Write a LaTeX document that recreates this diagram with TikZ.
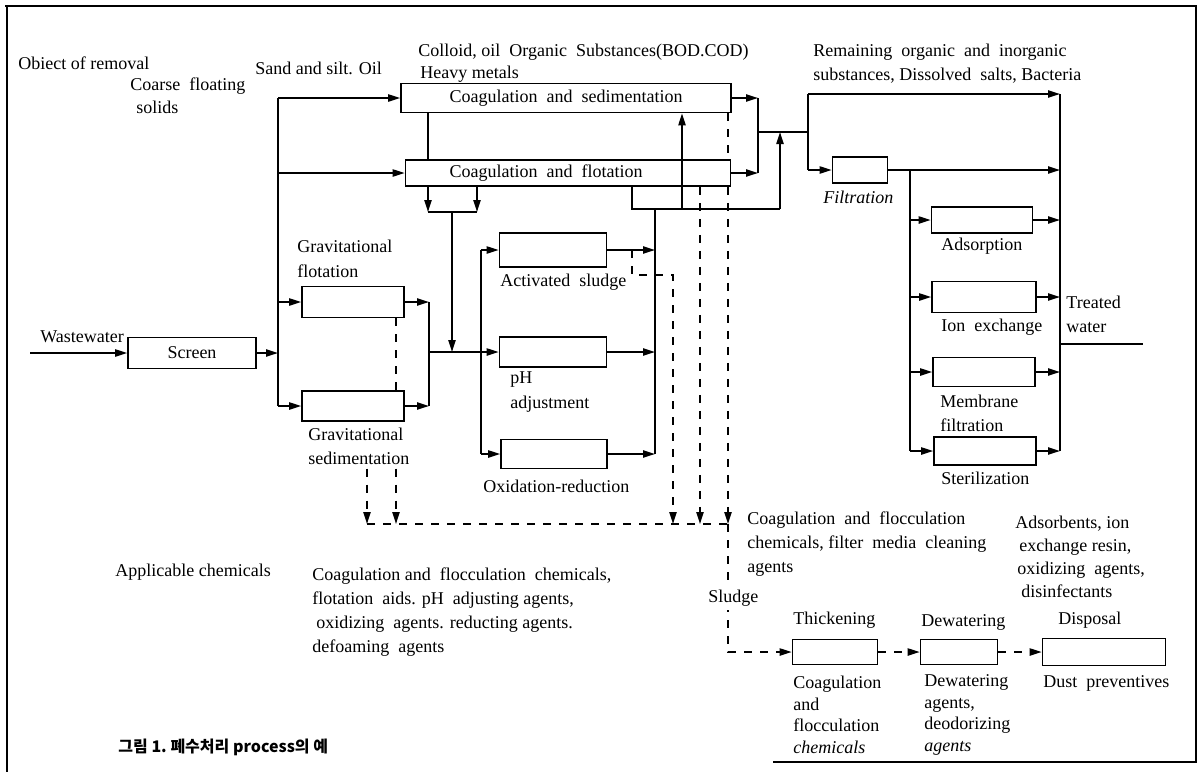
\documentclass[tikz,border=0pt]{standalone}
\usepackage{fontspec}
\setmainfont{Liberation Serif}
\newfontfamily\krfont{Noto Sans CJK KR}
\usetikzlibrary{arrows.meta, positioning, calc}

\tikzset{
  unit/.style={draw, line width=0.8pt, minimum height=15pt, inner sep=0pt},
  pipe/.style={line width=0.8pt},
  flow/.style={line width=0.8pt, -{Triangle[length=6pt,width=3.6pt]}},
  sludge/.style={line width=0.8pt, dash pattern=on 4pt off 4pt},
  txt/.style={anchor=west, inner sep=0pt, align=left},
}

\begin{document}
\begin{tikzpicture}[x=0.5pt, y=-0.5pt, font=\fontsize{9}{12}\selectfont]
  \useasboundingbox (0,0) rectangle (1200,772);
  \draw[line width=0.6pt] (5,6) -- (1196,6) -- (1196,762) -- (773,762);
  \draw[line width=0.6pt] (7,6) -- (7,772);

  % units
  \node[unit, minimum width=64pt, minimum height=15.5pt] (screen) at (192,353) {Screen};
  \node[unit, minimum width=51pt, minimum height=15.5pt] (gflot) at (353,302) {};
  \node[unit, minimum width=51pt] (gsed) at (353,406) {};
  \node[unit, minimum width=165pt, minimum height=14.5pt] (csed) at (566,98) {Coagulation\ \ and\ \ sedimentation};
  \node[unit, minimum width=162.5pt, minimum height=13pt] (cflot) at (568,173) {\hspace{-22pt}Coagulation\ \ and\ \ flotation};
  \node[unit, minimum width=53.5pt, minimum height=17pt] (actsl) at (553,250) {};
  \node[unit, minimum width=53.5pt] (ph) at (553,352) {};
  \node[unit, minimum width=53pt, minimum height=14.5pt] (oxred) at (554,454) {};
  \node[unit, minimum width=27.5pt, minimum height=13pt] (filt) at (860,170) {};
  \node[unit, minimum width=50.5pt, minimum height=13pt] (adsorp) at (982,220) {};
  \node[unit, minimum width=52pt, minimum height=15.5pt] (ionex) at (984,297) {};
  \node[unit, minimum width=51pt, minimum height=14.5pt] (membr) at (984,372) {};
  \node[unit, minimum width=51pt, minimum height=14pt] (steril) at (985,451) {};
  \node[unit, minimum width=42.5pt, minimum height=12.5pt] (thick) at (835,652) {};
  \node[unit, minimum width=38.5pt, minimum height=12.5pt] (dewat) at (959,652) {};
  \node[unit, minimum width=61.5pt, minimum height=13.5pt] (dispo) at (1104,652) {};

  % labels
  \node[txt] (lobj) at (18,63) {Obiect of removal};
  \node[txt] (lcoarse) at (130,96) {Coarse\ \ floating\\[-0.5pt]\hspace{3pt}solids};
  \node[txt] (lsand) at (255,68) {Sand and silt. Oil};
  \node[txt] (lcoll) at (418,52) {Colloid, oil\ \ Organic\ \ Substances(BOD.COD)};
  \node[txt] (lheavy) at (420,74) {Heavy metals};
  \node[txt] (lrem) at (813,64) {Remaining\ \ organic\ \ and\ \ inorganic\\substances, Dissolved\ \ salts, Bacteria};
  \node[txt] (lww) at (40,337) {Wastewater};
  \node[txt] (lgflot) at (297,259) {Gravitational\\[0.5pt]flotation};
  \node[txt] (lgsed) at (308,446) {Gravitational\\sedimentation};
  \node[txt] (lactsl) at (500,282) {Activated\ \ sludge};
  \node[txt] (lph) at (510,392) {pH\\[0.5pt]adjustment};
  \node[txt] (loxred) at (483,486) {Oxidation-reduction};
  \node[txt, font=\fontsize{9}{12}\selectfont\itshape] (lfilt) at (823,197) {Filtration};
  \node[txt] (ladsorp) at (941,246) {Adsorption};
  \node[txt] (lionex) at (941,327) {Ion\ \ exchange};
  \node[txt] (lmembr) at (940,413) {Membrane\\filtration};
  \node[txt] (lsteril) at (941,478) {Sterilization};
  \node[txt] (ltw) at (1066,314) {Treated\\water};
  \node[txt] (lapp) at (115,572) {Applicable chemicals};
  \node[txt] (lchem1) at (312,612) {Coagulation and\ \ flocculation\ \ chemicals,\\flotation\ \ aids. pH\ \ adjusting agents,\\\hspace{2pt}oxidizing\ \ agents. reducting agents.\\defoaming\ \ agents};
  \node[txt] (lchem2) at (747,544) {Coagulation\ \ and\ \ flocculation\\chemicals, filter\ \ media\ \ cleaning\\agents};
  \node[txt, font=\fontsize{9}{11.5}\selectfont] (lchem3) at (1015,557) {Adsorbents, ion\\\hspace{2pt}exchange resin,\\\hspace{1pt}oxidizing\ \ agents,\\\hspace{3pt}disinfectants};
  \node[txt] (lthick) at (793,620) {Thickening};
  \node[txt] (ldewat) at (921,622) {Dewatering};
  \node[txt] (ldispo) at (1058,620) {Disposal};
  \node[txt, font=\fontsize{9}{10.8}\selectfont] (lthickc) at (793,715) {Coagulation\\and\\flocculation\\\textit{chemicals}};
  \node[txt, font=\fontsize{9}{10.8}\selectfont] (ldewatc) at (924,715) {Dewatering\\agents,\\deodorizing\\\textit{agents}};
  \node[txt] (ldispoc) at (1043,683) {Dust\ \ preventives};
  \node[txt, font=\krfont\bfseries\fontsize{8}{10}\selectfont] (title) at (118,747) {그림 1.\ 폐수처리\ process의\ 예};

  % inlet and pretreatment
  \coordinate (win) at (30,353);
  \coordinate (sj) at (278,353);
  \coordinate (stop) at (278,98);
  \coordinate (sbot) at (278,406);
  \draw[flow] (win) -- (screen.west);
  \draw[flow] (screen.east) -- (sj);
  \draw[pipe] (stop) -- (sbot);
  \draw[flow] (stop) -- (csed.west);
  \draw[flow] (stop |- cflot) -- (cflot.west);
  \draw[flow] (stop |- gflot) -- (gflot.west);
  \draw[flow] (sbot) -- (gsed.west);

  \coordinate (gj) at (429,352);
  \coordinate (bj) at (481,352);
  \draw[flow] (gflot.east) -- (gflot.east -| gj);
  \draw[flow] (gsed.east) -- (gsed.east -| gj);
  \draw[pipe] (gflot.east -| gj) -- (gsed.east -| gj);
  \draw[flow] (gj) -- (ph.west);
  \draw[pipe] (bj |- actsl) -- (bj |- oxred);
  \draw[flow] (bj |- actsl) -- (actsl.west);
  \draw[flow] (bj |- oxred) -- (oxred.west);

  \coordinate (k1) at (428,212);
  \coordinate (k2) at (477,212);
  \coordinate (k3) at (452,212);
  \draw[pipe] (csed.south -| k1) -- (cflot.north -| k1);
  \draw[flow] (cflot.south -| k1) -- (k1);
  \draw[flow] (cflot.south -| k2) -- (k2);
  \draw[pipe] (k1) -- (k2);
  \draw[flow] (k3) -- (k3 |- gj);

  % biological and chemical outlets
  \coordinate (mc) at (655,209);
  \coordinate (r1) at (632,209);
  \coordinate (r2) at (682,209);
  \coordinate (r3) at (780,209);
  \coordinate (oc) at (758,132);
  \coordinate (jn) at (808,132);
  \foreach \u in {actsl, ph, oxred}
    \draw[flow] (\u.east) -- (\u.east -| mc);
  \draw[pipe] (mc) -- (mc |- oxred);
  \draw[pipe] (cflot.south -| r1) -- (r1) -- (r3);
  \draw[flow] (r2) -- (csed.south -| r2);
  \draw[flow] (r3) -- (r3 |- jn);
  \draw[flow] (csed.east) -- (csed.east -| oc);
  \draw[flow] (cflot.east) -- (cflot.east -| oc);
  \draw[pipe] (csed.east -| oc) -- (cflot.east -| oc);
  \draw[pipe] (oc) -- (jn);

  % advanced treatment
  \coordinate (t1) at (808,94);
  \coordinate (rc) at (1060,94);
  \coordinate (fs) at (910,170);
  \coordinate (tw) at (1143,344);
  \draw[pipe] (t1) -- (t1 |- filt);
  \draw[flow] (t1) -- (rc);
  \draw[flow] (t1 |- filt) -- (filt.west);
  \draw[flow] (filt.east) -- (filt.east -| rc);
  \draw[pipe] (fs) -- (fs |- steril);
  \foreach \u in {adsorp, ionex, membr, steril} {
    \draw[flow] (fs |- \u) -- (\u.west);
    \draw[flow] (\u.east) -- (\u.east -| rc);
  }
  \draw[pipe] (rc) -- (rc |- steril);
  \draw[pipe] (tw -| rc) -- (tw);

  % sludge
  \coordinate (d1) at (367,524);
  \coordinate (d3) at (396,524);
  \coordinate (d4) at (673,524);
  \coordinate (d5) at (700,524);
  \coordinate (d6) at (728,524);
  \coordinate (a1) at (632,275);
  \draw[sludge] (gflot.south -| d3) -- (gsed.north -| d3);
  \draw[sludge, flow] ([yshift=-2pt]lgsed.south -| d3) -- (d3);
  \draw[sludge, flow] ([yshift=-2pt]lgsed.south -| d1) -- (d1);
  \draw[sludge, flow] (actsl.east -| a1) -- (a1) -- (a1 -| d4) -- (d4);
  \draw[sludge, flow] (cflot.south -| d5) -- (d5);
  \draw[sludge] (csed.south -| d6) -- (cflot.north -| d6);
  \draw[sludge, flow] (cflot.south -| d6) -- (d6);
  \draw[sludge] (d1) -- (d6);
  \draw[sludge, flow] (d6) -- (d6 |- thick) -- (thick.west);
  \draw[sludge, flow] (thick) -- (dewat);
  \draw[sludge, flow] (dewat) -- (dispo);
  \node[txt, fill=white, inner ysep=2pt] (lsludge) at (708,598) {Sludge};
\end{tikzpicture}
\end{document}
